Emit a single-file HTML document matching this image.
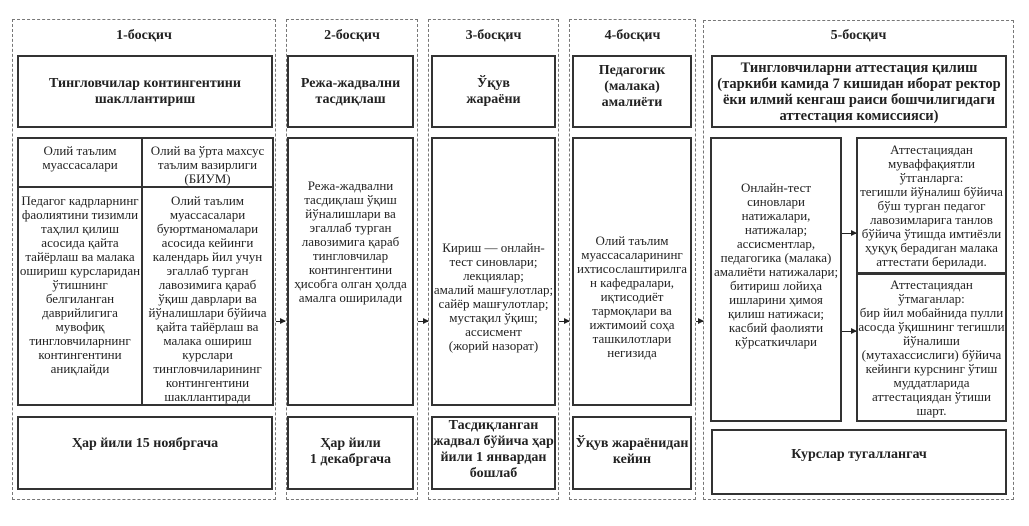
<!DOCTYPE html>
<html><head><meta charset="utf-8"><style>
body{margin:0;width:1029px;height:526px;background:#fff;position:relative;overflow:hidden;font-family:"Liberation Serif","DejaVu Serif",serif;color:#222}
.c{position:absolute;border:1.2px dashed #777;box-sizing:border-box}
.b{position:absolute;border:2px solid #333;box-sizing:border-box;display:flex;align-items:center;justify-content:center;text-align:center;font-size:13px;line-height:14px;padding:0;white-space:nowrap}
.t{position:absolute;font-weight:bold;font-size:14px;text-align:center}
.bold{font-weight:bold;font-size:14px;line-height:16px}
.top{align-items:flex-start;padding-top:3px}
.ar{position:absolute;height:1px;background:#222}
.ar:after{content:"";position:absolute;right:-1px;top:-3px;border-left:6px solid #222;border-top:3.5px solid transparent;border-bottom:3.5px solid transparent}
</style></head><body>
<div class="c" style="left:12px;top:19px;width:264px;height:481px"></div>
<div class="c" style="left:286px;top:19px;width:132px;height:481px"></div>
<div class="c" style="left:428px;top:19px;width:131px;height:481px"></div>
<div class="c" style="left:569px;top:19px;width:127px;height:481px"></div>
<div class="c" style="left:703px;top:20px;width:311px;height:480px"></div>

<div class="t" style="left:12px;width:264px;top:28px">1-босқич</div>
<div class="t" style="left:286px;width:132px;top:28px">2-босқич</div>
<div class="t" style="left:428px;width:131px;top:28px">3-босқич</div>
<div class="t" style="left:569px;width:127px;top:28px">4-босқич</div>
<div class="t" style="left:703px;width:311px;top:28px">5-босқич</div>

<div class="b bold" style="left:17px;top:55px;width:256px;height:73px">Тингловчилар контингентини<br>шакллантириш</div>
<div class="b" style="left:17px;top:137px;width:126px;height:51px;align-items:flex-start;padding-top:5px">Олий таълим<br>муассасалари</div>
<div class="b" style="left:141px;top:137px;width:133px;height:51px;align-items:flex-start;padding-top:5px">Олий ва ўрта махсус<br>таълим вазирлиги<br>(БИУМ)</div>
<div class="b" style="left:17px;top:186px;width:126px;height:220px;align-items:flex-start;padding-top:6px">Педагог кадрларнинг<br>фаолиятини тизимли<br>таҳлил қилиш<br>асосида қайта<br>тайёрлаш ва малака<br>ошириш курсларидан<br>ўтишнинг<br>белгиланган<br>даврийлигига<br>мувофиқ<br>тингловчиларнинг<br>контингентини<br>аниқлайди</div>
<div class="b" style="left:141px;top:186px;width:133px;height:220px;align-items:flex-start;padding-top:6px">Олий таълим<br>муассасалари<br>буюртманомалари<br>асосида кейинги<br>календарь йил учун<br>эгаллаб турган<br>лавозимига қараб<br>ўқиш даврлари ва<br>йўналишлари бўйича<br>қайта тайёрлаш ва<br>малака ошириш<br>курслари<br>тингловчиларининг<br>контингентини<br>шакллантиради</div>
<div class="b bold top" style="left:17px;top:416px;width:256px;height:74px;padding-top:18px">Ҳар йили 15 ноябргача</div>

<div class="b bold" style="left:287px;top:55px;width:127px;height:73px">Режа-жадвални<br>тасдиқлаш</div>
<div class="b" style="left:287px;top:137px;width:127px;height:269px;padding-bottom:60px">Режа-жадвални<br>тасдиқлаш ўқиш<br>йўналишлари ва<br>эгаллаб турган<br>лавозимига қараб<br>тингловчилар<br>контингентини<br>ҳисобга олган ҳолда<br>амалга оширилади</div>
<div class="b bold top" style="left:287px;top:416px;width:127px;height:74px;padding-top:18px">Ҳар йили<br>1 декабргача</div>

<div class="b bold" style="left:431px;top:55px;width:125px;height:73px">Ўқув<br>жараёни</div>
<div class="b" style="left:431px;top:137px;width:125px;height:269px;padding-top:50px">Кириш — онлайн-<br>тест синовлари;<br>лекциялар;<br>амалий машғулотлар;<br>сайёр машғулотлар;<br>мустақил ўқиш;<br>ассисмент<br>(жорий назорат)</div>
<div class="b bold" style="left:431px;top:416px;width:125px;height:74px;padding-bottom:6px">Тасдиқланган<br>жадвал бўйича ҳар<br>йили 1 январдан<br>бошлаб</div>

<div class="b bold" style="left:572px;top:55px;width:120px;height:73px;padding-bottom:10px">Педагогик<br>(малака)<br>амалиёти</div>
<div class="b" style="left:572px;top:137px;width:120px;height:269px;padding-top:50px">Олий таълим<br>муассасаларининг<br>ихтисослаштирилга<br>н кафедралари,<br>иқтисодиёт<br>тармоқлари ва<br>ижтимоий соҳа<br>ташкилотлари<br>негизида</div>
<div class="b bold top" style="left:572px;top:416px;width:120px;height:74px;padding-top:18px">Ўқув жараёнидан<br>кейин</div>

<div class="b bold" style="left:711px;top:55px;width:296px;height:73px;font-size:14.5px">Тингловчиларни аттестация қилиш<br>(таркиби камида 7 кишидан иборат ректор<br>ёки илмий кенгаш раиси бошчилигидаги<br>аттестация комиссияси)</div>
<div class="b" style="left:710px;top:137px;width:132px;height:285px;padding-bottom:30px">Онлайн-тест<br>синовлари<br>натижалари,<br>натижалар;<br>ассисментлар,<br>педагогика (малака)<br>амалиёти натижалари;<br>битириш лойиҳа<br>ишларини ҳимоя<br>қилиш натижаси;<br>касбий фаолияти<br>кўрсаткичлари</div>
<div class="b" style="left:856px;top:137px;width:151px;height:137px">Аттестациядан<br>муваффақиятли<br>ўтганларга:<br>тегишли йўналиш бўйича<br>бўш турган педагог<br>лавозимларига танлов<br>бўйича ўтишда имтиёзли<br>ҳуқуқ берадиган малака<br>аттестати берилади.</div>
<div class="b" style="left:856px;top:273px;width:151px;height:149px">Аттестациядан<br>ўтмаганлар:<br>бир йил мобайнида пулли<br>асосда ўқишнинг тегишли<br>йўналиши<br>(мутахассислиги) бўйича<br>кейинги курснинг ўтиш<br>муддатларида<br>аттестациядан ўтиши<br>шарт.</div>
<div class="b bold top" style="left:711px;top:429px;width:296px;height:66px;padding-top:16px">Курслар тугаллангач</div>

<div class="ar" style="left:276px;top:321px;width:9px"></div>
<div class="ar" style="left:418px;top:321px;width:10px"></div>
<div class="ar" style="left:559px;top:321px;width:10px"></div>
<div class="ar" style="left:696px;top:321px;width:7px"></div>
<div class="ar" style="left:842px;top:233px;width:14px"></div>
<div class="ar" style="left:842px;top:331px;width:14px"></div>
</body></html>
